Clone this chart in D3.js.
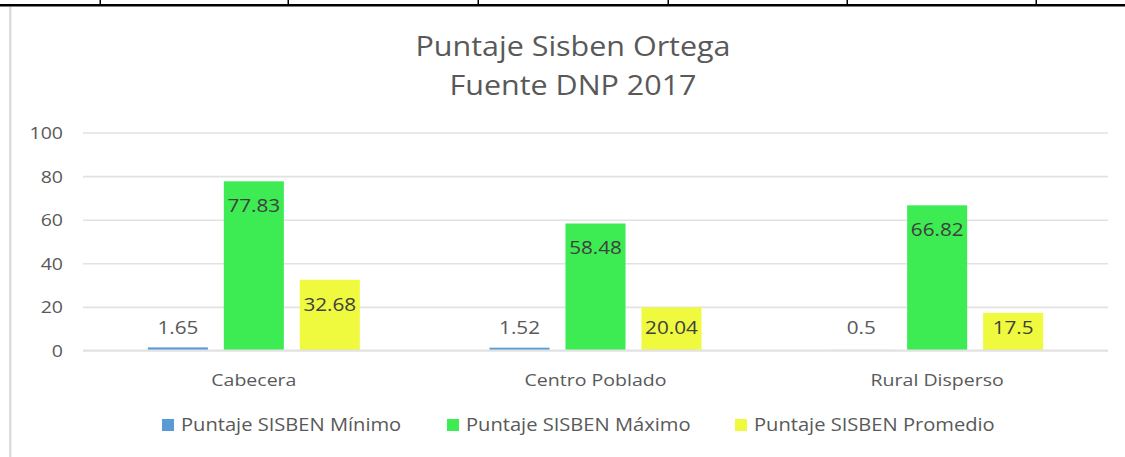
<!DOCTYPE html>
<html><head><meta charset="utf-8">
<script src="https://cdn.jsdelivr.net/npm/d3@7"></script>
<style>
body{margin:0;background:#fff;}
svg{display:block;font-family:"Open Sans",sans-serif;}
</style></head>
<body>
<svg id="c" width="1125" height="457"></svg>
<script>
const categories = ["Cabecera", "Centro Poblado", "Rural Disperso"];
const seriesNames = ["Puntaje SISBEN Mínimo", "Puntaje SISBEN Máximo", "Puntaje SISBEN Promedio"];
const minimo = [1.65, 1.52, 0.5];
const maximo = [77.83, 58.48, 66.82];
const promedio = [32.68, 20.04, 17.5];
const yTicks = [0, 20, 40, 60, 80, 100];
const titleLines = ["Puntaje Sisben Ortega", "Fuente DNP 2017"];

const colors = ["#5b9bd5", "#3deb52", "#effa3f"];
const seriesValues = [minimo, maximo, promedio];
const SX = 1.15; // horizontal glyph stretch seen in the reference

const svg = d3.select("#c");

// page frame (table border above, left border)
svg.append("rect").attr("x",0).attr("y",4).attr("width",1125).attr("height",2.5).attr("fill","#000");
[100,288,478,668,847,1036].forEach(xx=>{
  svg.append("rect").attr("x",xx-0.5).attr("y",0).attr("width",1.5).attr("height",5).attr("fill","#000");
});
svg.append("rect").attr("x",9).attr("y",7).attr("width",2.5).attr("height",450).attr("fill","#dcdcdc");

const x = d3.scaleBand().domain(categories).range([83,1108]).padding(0);
const groupW = 212;
const xi = d3.scaleBand().domain(seriesNames).range([0,groupW]).paddingInner(0.21).paddingOuter(0);
const y = d3.scaleLinear().domain([0,100]).range([351,133]);

// gridlines (except baseline)
svg.append("g").selectAll("line").data(yTicks.filter(d=>d!==0)).join("line")
  .attr("x1",83).attr("x2",1108)
  .attr("y1",d=>y(d)).attr("y2",d=>y(d))
  .attr("stroke","#e2e2e2").attr("stroke-width",1.6);

// y axis labels
const yAxis = d3.axisLeft(y).tickValues(yTicks).tickSize(0).tickPadding(0).tickFormat(d3.format("d"));
const ga = svg.append("g").attr("transform","translate(63,0)").call(yAxis);
ga.select(".domain").remove();
ga.selectAll("text").attr("x",0).attr("transform",`scale(${SX},1)`).attr("fill","#595959")
  .style("font-size","17px").style("font-family","'Open Sans',sans-serif");

// bars
const groups = svg.append("g").selectAll("g").data(categories).join("g")
  .attr("transform",d=>`translate(${x(d)+(x.bandwidth()-groupW)/2},0)`);

groups.each(function(cat, ci){
  const g = d3.select(this);
  seriesNames.forEach((s, si)=>{
    const v = seriesValues[si][ci];
    const bx = xi(s), bw = xi.bandwidth();
    g.append("rect").attr("x",bx).attr("width",bw)
      .attr("y",y(v)).attr("height",y(0)-y(v)).attr("fill",colors[si]);
    let ly, col;
    if (si===0) { ly = Math.min(y(v)-20, 328); col = "#595959"; }
    else { ly = Math.min(y(v)+24.5, 328); col = "#404040"; }
    g.append("text").attr("transform",`translate(${bx+bw/2},${ly}) scale(${SX},1)`).attr("dy","0.35em")
      .attr("text-anchor","middle").attr("fill",col).style("font-size","18px")
      .text(String(v));
  });
});

// baseline drawn over bars
svg.append("line").attr("x1",83).attr("x2",1108).attr("y1",y(0)-0.3).attr("y2",y(0)-0.3)
  .attr("stroke","#e2e2e2").attr("stroke-width",2.2);

// category labels
const xAxis = d3.axisBottom(x).tickSize(0).tickPadding(0);
const gx = svg.append("g").attr("transform","translate(0,380)").call(xAxis);
gx.select(".domain").remove();
gx.selectAll("text").attr("y",0).attr("dy","0.35em").attr("transform",`scale(${SX},1)`).attr("fill","#595959")
  .style("font-size","17px").style("font-family","'Open Sans',sans-serif");

// title
svg.append("g").selectAll("text").data(titleLines).join("text")
  .attr("transform",(d,i)=>`translate(573,${47+i*39}) scale(${SX},1)`).attr("dy","0.35em").attr("text-anchor","middle")
  .attr("fill","#595959").style("font-size","26.5px").text(d=>d);

// legend
const legendX = [162, 447, 735];
const lg = svg.append("g").selectAll("g").data(seriesNames).join("g")
  .attr("transform",(d,i)=>`translate(${legendX[i]},425)`);
lg.append("rect").attr("x",0).attr("y",-6).attr("width",12).attr("height",12).attr("fill",(d,i)=>colors[i]);
lg.append("text").attr("transform",`translate(19,0) scale(${SX},1)`).attr("dy","0.35em").attr("fill","#595959")
  .style("font-size","17.5px").text(d=>d);
</script>
</body></html>
